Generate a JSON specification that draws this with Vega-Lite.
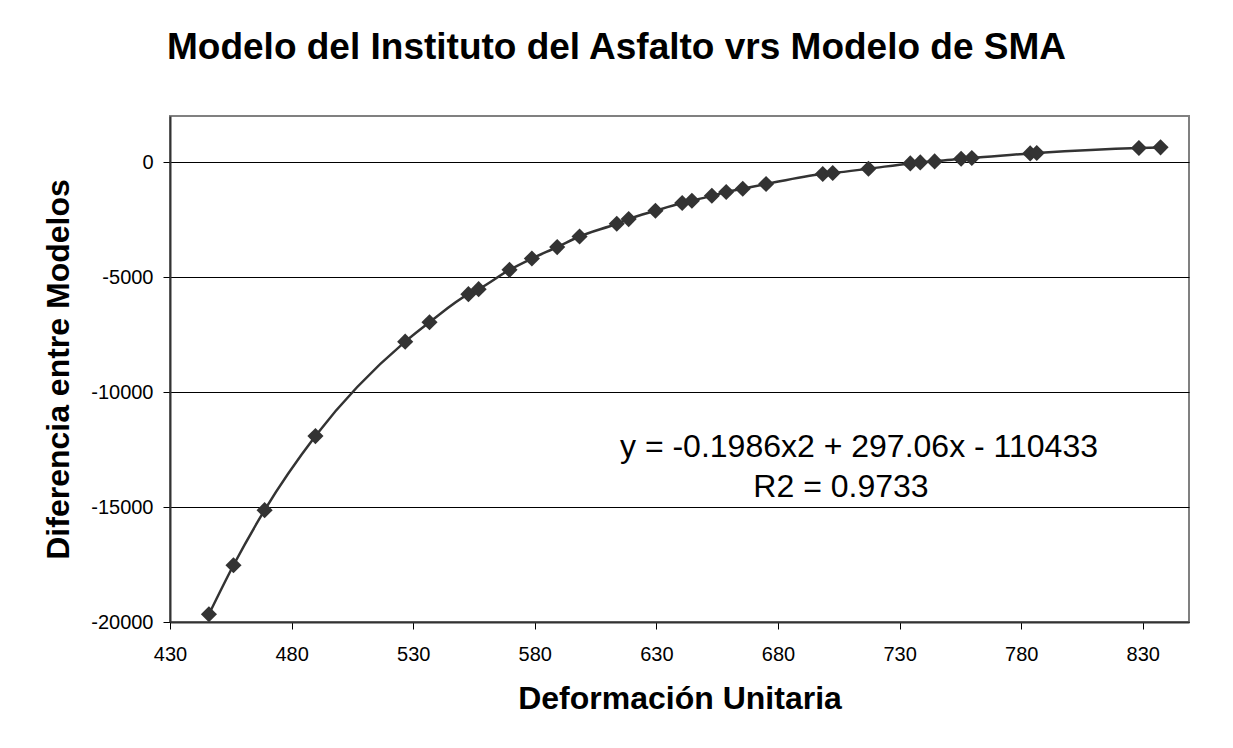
{
  "$schema": "https://vega.github.io/schema/vega-lite/v6.json",
  "width": 1019,
  "height": 506,
  "autosize": {"type": "none"},
  "padding": {"left": 170, "top": 116, "right": 44, "bottom": 126},
  "background": "white",
  "title": {
    "text": "Modelo del Instituto del Asfalto vrs Modelo de SMA",
    "font": "Liberation Sans",
    "fontSize": 37,
    "fontWeight": "bold",
    "color": "#000000",
    "anchor": "middle",
    "baseline": "alphabetic",
    "offset": 20,
    "dx": -63
  },
  "config": {
    "view": {"stroke": "#808080", "strokeWidth": 2},
    "font": "Liberation Sans"
  },
  "datasets": {
    "puntos": [
      {"deformacion": 446.0, "diferencia": -19665},
      {"deformacion": 456.1, "diferencia": -17532},
      {"deformacion": 468.9, "diferencia": -15138},
      {"deformacion": 489.8, "diferencia": -11916},
      {"deformacion": 526.7, "diferencia": -7810},
      {"deformacion": 536.7, "diferencia": -6966},
      {"deformacion": 552.7, "diferencia": -5747},
      {"deformacion": 556.9, "diferencia": -5529},
      {"deformacion": 569.6, "diferencia": -4689},
      {"deformacion": 578.8, "diferencia": -4197},
      {"deformacion": 589.2, "diferencia": -3700},
      {"deformacion": 598.4, "diferencia": -3239},
      {"deformacion": 613.7, "diferencia": -2686},
      {"deformacion": 618.6, "diferencia": -2481},
      {"deformacion": 629.6, "diferencia": -2120},
      {"deformacion": 640.6, "diferencia": -1785},
      {"deformacion": 644.6, "diferencia": -1685},
      {"deformacion": 652.8, "diferencia": -1467},
      {"deformacion": 658.7, "diferencia": -1306},
      {"deformacion": 665.5, "diferencia": -1162},
      {"deformacion": 675.1, "diferencia": -958},
      {"deformacion": 698.4, "diferencia": -522},
      {"deformacion": 702.5, "diferencia": -479},
      {"deformacion": 717.2, "diferencia": -292},
      {"deformacion": 734.4, "diferencia": -61},
      {"deformacion": 738.5, "diferencia": -17},
      {"deformacion": 744.4, "diferencia": 26},
      {"deformacion": 755.3, "diferencia": 144},
      {"deformacion": 759.7, "diferencia": 174},
      {"deformacion": 783.7, "diferencia": 374},
      {"deformacion": 786.4, "diferencia": 392},
      {"deformacion": 828.4, "diferencia": 609},
      {"deformacion": 837.3, "diferencia": 636}
    ],
    "ecuacion": [
      {"deformacion": 713.3, "diferencia": -12830, "texto": "y = -0.1986x2 + 297.06x - 110433"},
      {"deformacion": 705.9, "diferencia": -14572, "texto": "R2 = 0.9733"}
    ]
  },
  "layer": [
    {
      "data": {"name": "puntos"},
      "mark": {"type": "line", "interpolate": "monotone", "color": "#333333", "strokeWidth": 2.5},
      "encoding": {
        "x": {
          "field": "deformacion",
          "type": "quantitative",
          "scale": {"domain": [430, 849], "nice": false, "zero": false},
          "axis": {
            "values": [430, 480, 530, 580, 630, 680, 730, 780, 830],
            "labelExpr": "'' + datum.value",
            "grid": false,
            "tickSize": 7,
            "tickColor": "#000000",
            "tickWidth": 1,
            "domainColor": "#333333",
            "domainWidth": 2,
            "labelFontSize": 20,
            "labelColor": "#000000",
            "labelPadding": 15,
            "labelFlush": false,
            "title": "Deformación Unitaria",
            "titleFontSize": 32,
            "titleFontWeight": "bold",
            "titleColor": "#000000",
            "titlePadding": 19
          }
        },
        "y": {
          "field": "diferencia",
          "type": "quantitative",
          "scale": {"domain": [-20000, 2000], "nice": false, "zero": false},
          "axis": {
            "values": [-20000, -15000, -10000, -5000, 0],
            "labelExpr": "'' + datum.value",
            "grid": true,
            "gridColor": "#000000",
            "gridWidth": 1,
            "gridOpacity": 1,
            "tickSize": 7,
            "tickColor": "#000000",
            "domainColor": "#333333",
            "domainWidth": 2,
            "labelFontSize": 20,
            "labelColor": "#000000",
            "labelPadding": 10,
            "labelFlush": false,
            "title": "Diferencia entre Modelos",
            "titleFontSize": 32,
            "titleFontWeight": "bold",
            "titleColor": "#000000",
            "titlePadding": 15
          }
        }
      }
    },
    {
      "data": {"name": "puntos"},
      "mark": {"type": "point", "shape": "diamond", "filled": true, "size": 260, "color": "#333333", "opacity": 1},
      "encoding": {
        "x": {"field": "deformacion", "type": "quantitative"},
        "y": {"field": "diferencia", "type": "quantitative"}
      }
    },
    {
      "data": {"name": "ecuacion"},
      "mark": {"type": "text", "fontSize": 32, "align": "center", "baseline": "alphabetic", "color": "#000000"},
      "encoding": {
        "x": {"field": "deformacion", "type": "quantitative"},
        "y": {"field": "diferencia", "type": "quantitative"},
        "text": {"field": "texto"}
      }
    }
  ]
}
